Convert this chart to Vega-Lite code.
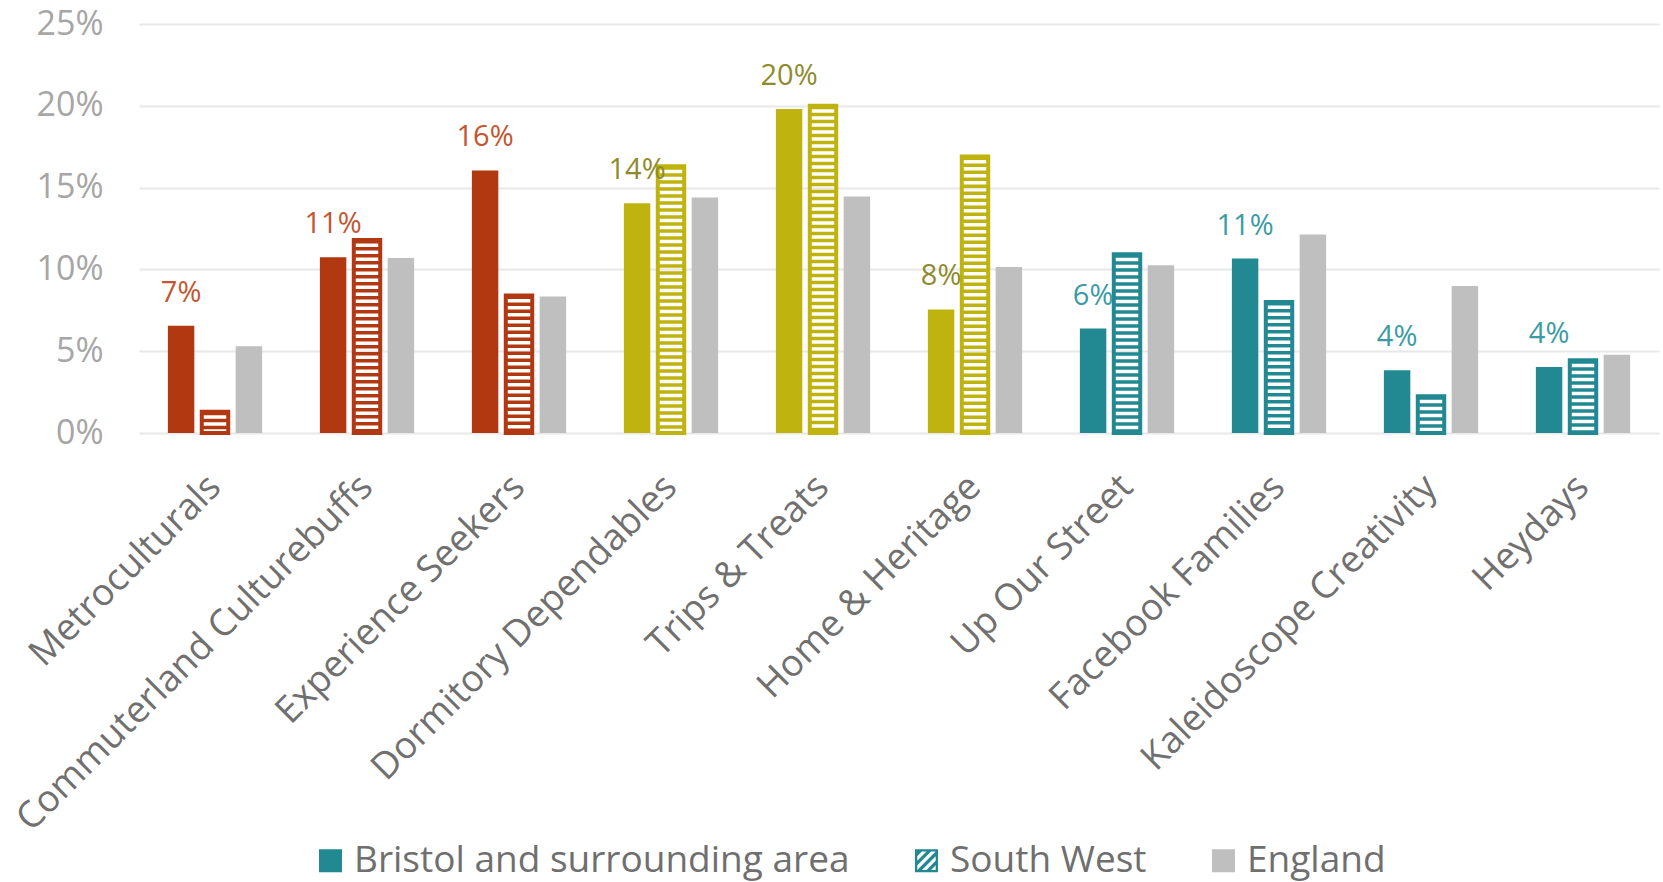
{
  "$schema": "https://vega.github.io/schema/vega-lite/v6.json",
  "width": 1520,
  "height": 409,
  "autosize": "none",
  "padding": {"left": 139, "top": 24, "right": 4, "bottom": 449},
  "background": "white",
  "config": {"font": "Open Sans", "view": {"stroke": null}},
  "data": {
    "values": [
      {"segment": "Metroculturals", "engagement": "Highly engaged", "area": "Bristol and surrounding area", "share": 0.0655},
      {"segment": "Metroculturals", "engagement": "Highly engaged", "area": "South West", "share": 0.013},
      {"segment": "Metroculturals", "engagement": "Highly engaged", "area": "England", "share": 0.053},
      {"segment": "Commuterland Culturebuffs", "engagement": "Highly engaged", "area": "Bristol and surrounding area", "share": 0.1075},
      {"segment": "Commuterland Culturebuffs", "engagement": "Highly engaged", "area": "South West", "share": 0.118},
      {"segment": "Commuterland Culturebuffs", "engagement": "Highly engaged", "area": "England", "share": 0.107},
      {"segment": "Experience Seekers", "engagement": "Highly engaged", "area": "Bristol and surrounding area", "share": 0.1605},
      {"segment": "Experience Seekers", "engagement": "Highly engaged", "area": "South West", "share": 0.084},
      {"segment": "Experience Seekers", "engagement": "Highly engaged", "area": "England", "share": 0.0835},
      {"segment": "Dormitory Dependables", "engagement": "Medium engaged", "area": "Bristol and surrounding area", "share": 0.1405},
      {"segment": "Dormitory Dependables", "engagement": "Medium engaged", "area": "South West", "share": 0.163},
      {"segment": "Dormitory Dependables", "engagement": "Medium engaged", "area": "England", "share": 0.144},
      {"segment": "Trips & Treats", "engagement": "Medium engaged", "area": "Bristol and surrounding area", "share": 0.198},
      {"segment": "Trips & Treats", "engagement": "Medium engaged", "area": "South West", "share": 0.2},
      {"segment": "Trips & Treats", "engagement": "Medium engaged", "area": "England", "share": 0.1445},
      {"segment": "Home & Heritage", "engagement": "Medium engaged", "area": "Bristol and surrounding area", "share": 0.0755},
      {"segment": "Home & Heritage", "engagement": "Medium engaged", "area": "South West", "share": 0.169},
      {"segment": "Home & Heritage", "engagement": "Medium engaged", "area": "England", "share": 0.1015},
      {"segment": "Up Our Street", "engagement": "Lower engaged", "area": "Bristol and surrounding area", "share": 0.0638},
      {"segment": "Up Our Street", "engagement": "Lower engaged", "area": "South West", "share": 0.1093},
      {"segment": "Up Our Street", "engagement": "Lower engaged", "area": "England", "share": 0.1026},
      {"segment": "Facebook Families", "engagement": "Lower engaged", "area": "Bristol and surrounding area", "share": 0.1066},
      {"segment": "Facebook Families", "engagement": "Lower engaged", "area": "South West", "share": 0.0801},
      {"segment": "Facebook Families", "engagement": "Lower engaged", "area": "England", "share": 0.1213},
      {"segment": "Kaleidoscope Creativity", "engagement": "Lower engaged", "area": "Bristol and surrounding area", "share": 0.0383},
      {"segment": "Kaleidoscope Creativity", "engagement": "Lower engaged", "area": "South West", "share": 0.0224},
      {"segment": "Kaleidoscope Creativity", "engagement": "Lower engaged", "area": "England", "share": 0.0899},
      {"segment": "Heydays", "engagement": "Lower engaged", "area": "Bristol and surrounding area", "share": 0.0404},
      {"segment": "Heydays", "engagement": "Lower engaged", "area": "South West", "share": 0.0445},
      {"segment": "Heydays", "engagement": "Lower engaged", "area": "England", "share": 0.0479}
    ]
  },
  "encoding": {
    "x": {
      "field": "segment",
      "type": "nominal",
      "scale": {
        "domain": ["Metroculturals", "Commuterland Culturebuffs", "Experience Seekers", "Dormitory Dependables", "Trips & Treats", "Home & Heritage", "Up Our Street", "Facebook Families", "Kaleidoscope Creativity", "Heydays"],
        "paddingInner": 0.38,
        "paddingOuter": 0.19
      },
      "axis": {
        "title": null,
        "domain": false,
        "ticks": false,
        "labelAngle": -45,
        "labelAlign": "right",
        "labelBaseline": "middle",
        "labelPadding": 48,
        "labelFontSize": 37,
        "labelColor": "#707070",
        "labelLimit": 700,
        "grid": false
      }
    },
    "xOffset": {
      "field": "area",
      "type": "nominal",
      "scale": {"domain": ["Bristol and surrounding area", "South West", "England"], "paddingInner": 0.22, "paddingOuter": 0}
    },
    "y": {
      "field": "share",
      "type": "quantitative",
      "scale": {"domain": [0, 0.25]},
      "axis": {
        "title": null,
        "values": [0, 0.05, 0.1, 0.15, 0.2, 0.25],
        "format": ".0%",
        "domain": false,
        "ticks": false,
        "grid": true,
        "gridColor": "#E8E8E8",
        "gridWidth": 2,
        "labelFontSize": 34,
        "labelColor": "#A6A6A6",
        "labelPadding": 36
      }
    }
  },
  "layer": [
    {
      "transform": [{"filter": "datum.area !== 'South West'"}],
      "mark": {"type": "bar"},
      "encoding": {
        "fill": {
          "condition": {"test": "datum.area === 'England'", "value": "#BFBFBF"},
          "field": "engagement",
          "type": "nominal",
          "scale": {"domain": ["Highly engaged", "Medium engaged", "Lower engaged"], "range": ["#B23812", "#BFB30F", "#228993"]},
          "legend": null
        }
      }
    },
    {
      "transform": [{"filter": "datum.area === 'South West'"}],
      "mark": {"type": "rule", "strokeWidth": 24, "strokeDash": [3.5, 3.5]},
      "encoding": {
        "y2": {"datum": 0},
        "stroke": {
          "field": "engagement",
          "type": "nominal",
          "scale": {"domain": ["Highly engaged", "Medium engaged", "Lower engaged"], "range": ["#B23812", "#BFB30F", "#228993"]},
          "legend": null
        }
      }
    },
    {
      "transform": [{"filter": "datum.area === 'South West'"}],
      "mark": {"type": "bar", "filled": false, "strokeWidth": 4},
      "encoding": {
        "stroke": {
          "field": "engagement",
          "type": "nominal",
          "scale": {"domain": ["Highly engaged", "Medium engaged", "Lower engaged"], "range": ["#B23812", "#BFB30F", "#228993"]},
          "legend": null
        }
      }
    },
    {
      "transform": [{"filter": "datum.area === 'Bristol and surrounding area'"}],
      "mark": {"type": "text", "dy": -33, "fontSize": 29, "baseline": "middle", "align": "center"},
      "encoding": {
        "text": {"field": "share", "type": "quantitative", "format": ".0%"},
        "color": {
          "field": "engagement",
          "type": "nominal",
          "scale": {"domain": ["Highly engaged", "Medium engaged", "Lower engaged"], "range": ["#C4552F", "#8E8B2C", "#3B9BA5"]},
          "legend": null
        }
      }
    },
    {
      "mark": {"type": "point", "filled": true, "opacity": 0},
      "encoding": {
        "color": {
          "field": "area",
          "type": "nominal",
          "scale": {"domain": ["Bristol and surrounding area", "South West", "England"], "range": ["#228993", "#228993", "#BFBFBF"]},
          "legend": {
            "title": null,
            "orient": "none",
            "legendX": 173,
            "legendY": 818,
            "direction": "horizontal",
            "labelFontSize": 37,
            "labelColor": "#6F6F6F",
            "labelLimit": 700,
            "labelOffset": 5,
            "columnPadding": 58,
            "symbolSize": 530,
            "symbolStrokeWidth": 0,
            "symbolOpacity": 1,
            "padding": 0
          }
        },
        "shape": {
          "field": "area",
          "type": "nominal",
          "scale": {
            "domain": ["Bristol and surrounding area", "South West", "England"],
            "range": ["square", "M-1,-1H1V1H-1Z M-0.8,-0.8V0.8H0.8V-0.8Z M-0.8,-0.8H-0.4L-0.8,-0.4Z M0,-0.8H0.4L-0.8,0.4V0Z M0.8,-0.8V-0.4L-0.4,0.8H-0.8Z M0.8,0V0.4L0.4,0.8H0Z", "square"]
          },
          "legend": {
            "title": null,
            "orient": "none",
            "legendX": 173,
            "legendY": 818,
            "direction": "horizontal",
            "labelFontSize": 37,
            "labelColor": "#6F6F6F",
            "labelLimit": 700,
            "labelOffset": 5,
            "columnPadding": 58,
            "symbolSize": 530,
            "symbolStrokeWidth": 0,
            "symbolOpacity": 1,
            "padding": 0
          }
        }
      }
    }
  ],
  "resolve": {"scale": {"color": "independent", "shape": "independent"}}
}
